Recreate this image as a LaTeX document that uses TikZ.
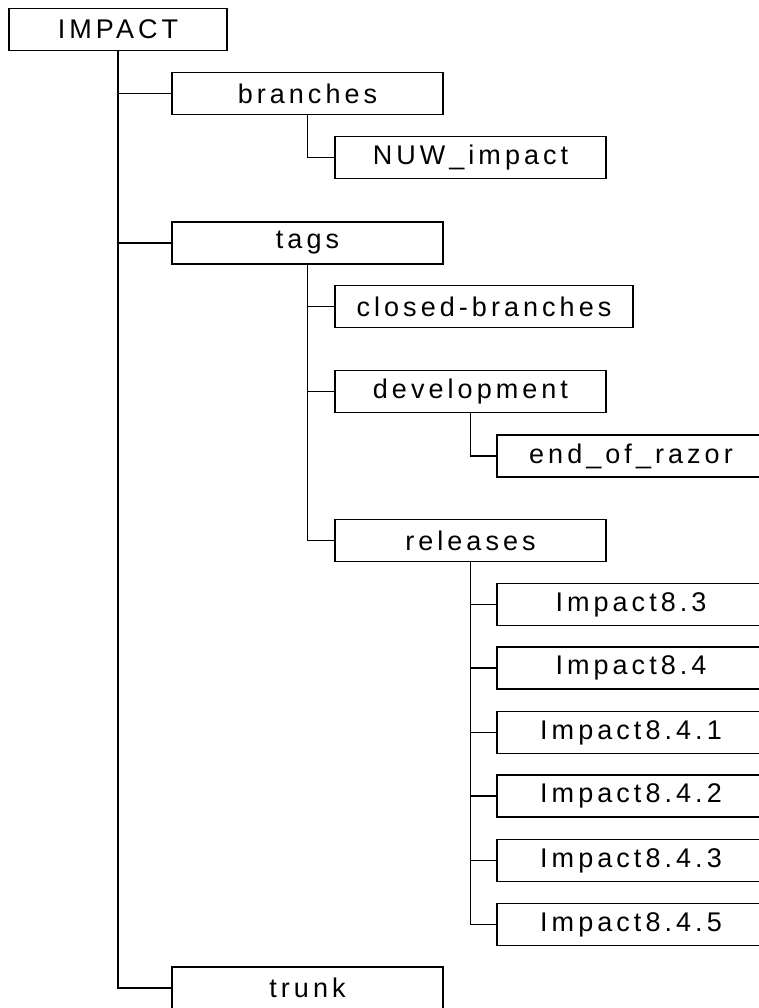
\documentclass[tikz,border=0pt]{standalone}
\usepackage{fontspec}
\setmainfont{Liberation Sans}[LetterSpace=15]
\begin{document}
\begin{tikzpicture}[x=1pt,y=-1pt,
  dirbox/.style={draw=black, line width=1.6pt, inner sep=0pt, minimum height=42pt,
    font=\fontsize{27}{31}\selectfont, text=black},
  lvlzero/.style={dirbox, minimum width=218pt},
  lvlone/.style={dirbox, minimum width=271pt},
  lvltwo/.style={dirbox, minimum width=271pt},
  lvlwide/.style={dirbox, minimum width=298pt},
  lvlthree/.style={dirbox, minimum width=268pt},
  tree/.style={draw=black, line width=1.6pt}]
\useasboundingbox (0,0) rectangle (759,1008);
\begin{scope}
\clip (0,0) rectangle (759,1008);
% root and first level
\node[lvlzero] (impact)   at (118,29.5)  {IMPACT};
\node[lvlone]  (branches) at (307.5,93.5) {branches};
\node[lvlone]  (tags)     at (307.5,243)  {tags};
\node[lvlone]  (trunk)    at (307.5,988)  {trunk};
% second level
\node[lvltwo]  (nuw)      at (470.5,157.5) {NUW\_impact};
\node[lvlwide] (closed)   at (484,306.5)   {closed-branches};
\node[lvltwo]  (devel)    at (470.5,391.5) {development};
\node[lvltwo]  (releases) at (470.5,540.5) {releases};
% third level
\node[lvlthree] (eor)  at (631,456)   {end\_of\_razor};
\node[lvlthree] (rA)   at (631,604.5) {Impact8.3};
\node[lvlthree] (rB)   at (631,668)   {Impact8.4};
\node[lvlthree] (rC)   at (631,732.5) {Impact8.4.1};
\node[lvlthree] (rD)   at (631,796)   {Impact8.4.2};
\node[lvlthree] (rE)   at (631,860.5) {Impact8.4.3};
\node[lvlthree] (rF)   at (631,924.5) {Impact8.4.5};
% tree connectors
\draw[tree] (impact.south) |- (branches.west);
\draw[tree] (impact.south) |- (tags.west);
\draw[tree] (impact.south) |- (trunk.west);
\draw[tree] (branches.south) |- (nuw.west);
\draw[tree] (tags.south) |- (closed.west);
\draw[tree] (tags.south) |- (devel.west);
\draw[tree] (tags.south) |- (releases.west);
\draw[tree] (devel.south) |- (eor.west);
\foreach \r in {rA,rB,rC,rD,rE,rF}
  \draw[tree] (releases.south) |- (\r.west);
\end{scope}
\end{tikzpicture}
\end{document}
